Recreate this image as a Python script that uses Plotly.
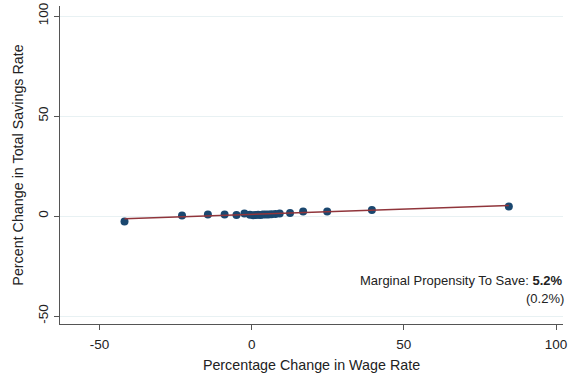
import plotly.graph_objects as go

# Percentage change in wage rate vs. percent change in total savings rate
wage_change = [-41.8, -22.9, -14.4, -8.9, -5.0, -2.4, -0.6, 0.5, 1.3, 2.1, 2.9,
               3.7, 4.6, 5.5, 6.5, 7.8, 9.2, 12.6, 16.9, 24.8, 39.5, 84.5]
savings_change = [-2.8, 0.2, 0.7, 0.7, 0.5, 1.3, 0.6, 0.4, 0.5, 0.6, 0.5,
                  0.7, 0.7, 0.8, 0.9, 1.0, 1.2, 1.5, 2.2, 2.2, 3.0, 4.8]

# Fitted line: slope is the marginal propensity to save
mps_slope = 0.052
mps_se = 0.002
fit_intercept = 0.8
fit_x = [min(wage_change), max(wage_change)]
fit_y = [fit_intercept + mps_slope * v for v in fit_x]

x_ticks = [-50, 0, 50, 100]
y_ticks = [-50, 0, 50, 100]

font_family = "Liberation Sans, Arial, sans-serif"
axis_color = "#555555"
text_color = "#222222"

fig = go.Figure()
fig.add_trace(go.Scatter(
    x=wage_change, y=savings_change, mode="markers",
    marker=dict(size=8, color="#1a476f", line=dict(width=0)),
    showlegend=False, hoverinfo="x+y",
))
fig.add_trace(go.Scatter(
    x=fit_x, y=fit_y, mode="lines",
    line=dict(color="#90353b", width=1.5),
    showlegend=False, hoverinfo="skip",
))

fig.add_annotation(
    x=1.0, y=0.138, xref="paper", yref="paper", xanchor="right", yanchor="middle",
    align="right", showarrow=False, xshift=2,
    text=f"Marginal Propensity To Save: <b>{mps_slope*100:.1f}%</b>",
    font=dict(family=font_family, size=13, color=text_color),
)
fig.add_annotation(
    x=1.0, y=0.08, xref="paper", yref="paper", xanchor="right", yanchor="middle",
    align="right", showarrow=False, xshift=3,
    text=f"({mps_se*100:.1f}%)",
    font=dict(family=font_family, size=13, color=text_color),
)

fig.update_layout(
    width=570, height=375,
    margin=dict(l=60, r=3, t=6, b=51),
    plot_bgcolor="white", paper_bgcolor="white",
    font=dict(family=font_family, size=13, color=text_color),
    xaxis=dict(
        range=[-63.0, 102.3], tickvals=x_ticks, ticktext=[str(v) for v in x_ticks],
        tickfont=dict(size=13.5), ticklabeloverflow="allow", ticklabelstandoff=3,
        showgrid=False, zeroline=False, showline=True, linecolor=axis_color, linewidth=1,
        ticks="outside", ticklen=5, tickcolor=axis_color,
        title=dict(text="Percentage Change in Wage Rate", standoff=8,
                   font=dict(size=14.3)),
    ),
    yaxis=dict(
        range=[-54, 105], tickvals=y_ticks, ticktext=[str(v) for v in y_ticks],
        tickangle=-90, tickfont=dict(size=13.5), ticklabelstandoff=1,
        showgrid=True, gridcolor="#e8f1f3", gridwidth=1,
        zeroline=False, showline=True, linecolor=axis_color, linewidth=1,
        ticks="outside", ticklen=5, tickcolor=axis_color,
        title=dict(text="Percent Change in Total Savings Rate", standoff=8,
                   font=dict(size=14.3)),
    ),
)

fig.write_html("out.html")
